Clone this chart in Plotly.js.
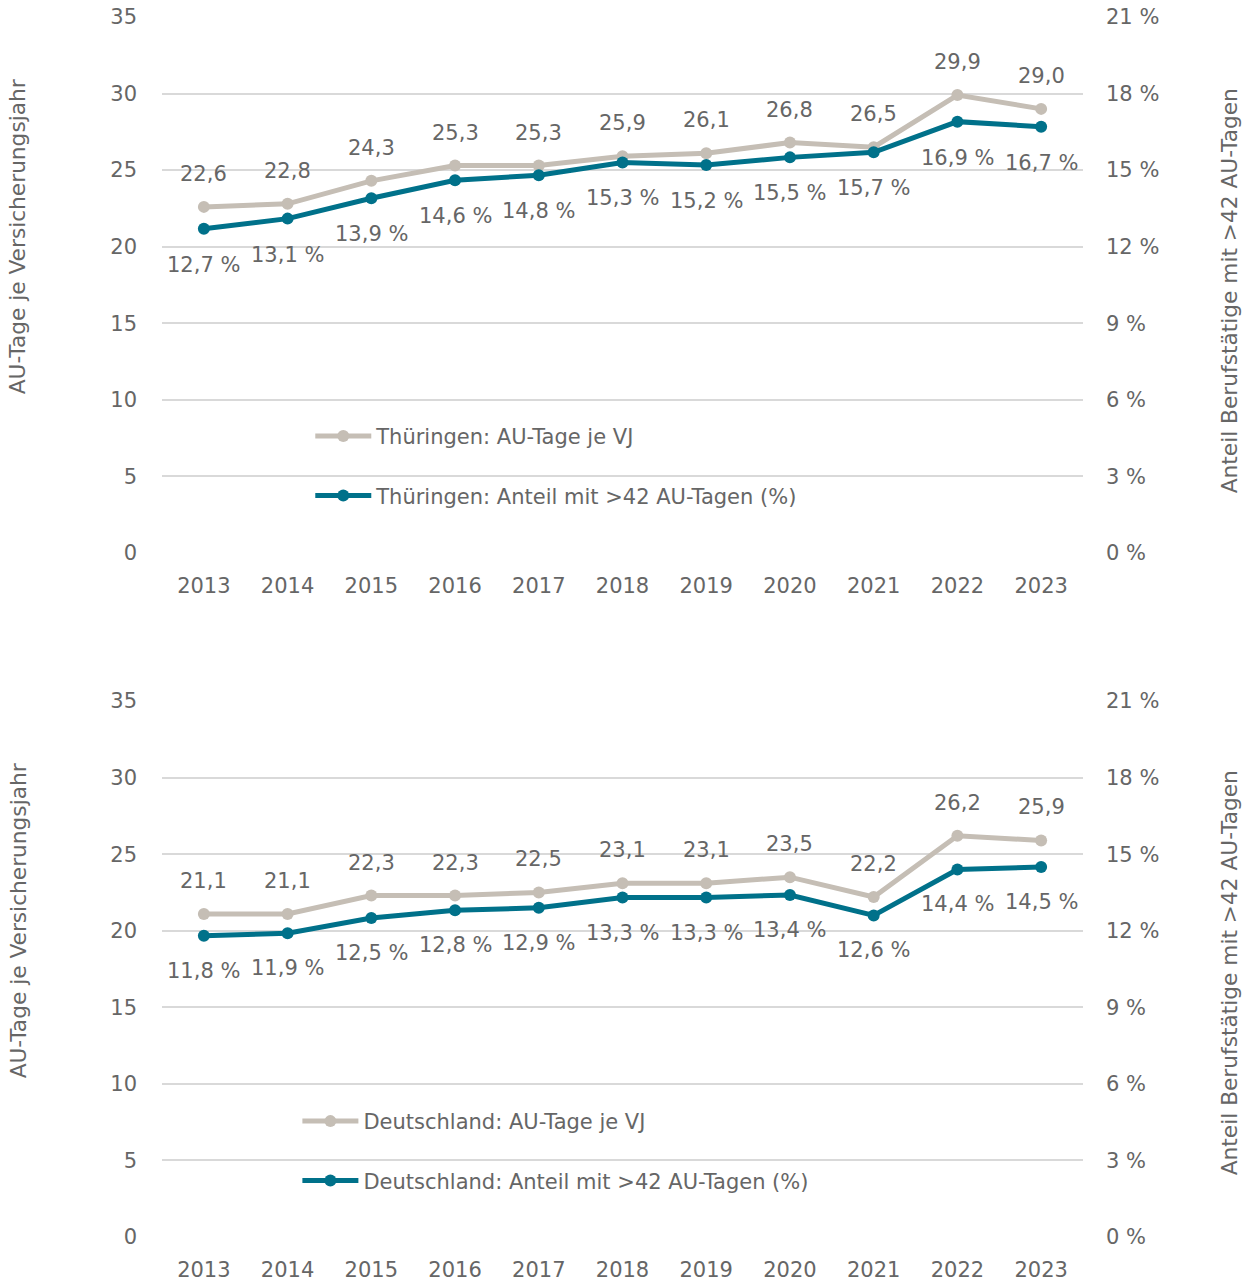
<!DOCTYPE html>
<html>
<head>
<meta charset="utf-8">
<script src="https://cdn.plot.ly/plotly-3.0.1.min.js"></script>
<style>html,body{margin:0;padding:0;background:#fff;}#chart{width:1251px;height:1285px;}</style>
</head>
<body>
<div id="chart"></div>
<script>
const years = ["2013","2014","2015","2016","2017","2018","2019","2020","2021","2022","2023"];
const thDays = [22.6,22.8,24.3,25.3,25.3,25.9,26.1,26.8,26.5,29.9,29.0];
const thPct  = [12.7,13.1,13.9,14.6,14.8,15.3,15.2,15.5,15.7,16.9,16.7];
const deDays = [21.1,21.1,22.3,22.3,22.5,23.1,23.1,23.5,22.2,26.2,25.9];
const dePct  = [11.8,11.9,12.5,12.8,12.9,13.3,13.3,13.4,12.6,14.4,14.5];
const leftTicks = [0,5,10,15,20,25,30,35];
const rightTicks = [0,3,6,9,12,15,18,21];
const rightTickLabels = ["0 %","3 %","6 %","9 %","12 %","15 %","18 %","21 %"];

const GRAY = "#c5beb5", TEAL = "#00718a", TXT = "#666666";
const FONT = "DejaVu Sans";
const FS = 21;
const fmt = v => v.toFixed(1).replace(".", ",");

function line(x, y, name, color, xa, ya, legend, group) {
  return {x, y, name, type: "scatter", mode: "lines+markers", xaxis: xa, yaxis: ya,
    line: {color, width: 5}, marker: {color, size: 12}, legend, legendgroup: group,
    hoverinfo: "skip"};
}

const traces = [
  line(years, thDays, "Thüringen: AU-Tage je VJ", GRAY, "x", "y", "legend", "a"),
  line(years, thPct, "Thüringen: Anteil mit >42 AU-Tagen (%)", TEAL, "x", "y2", "legend", "b"),
  line(years, deDays, "Deutschland: AU-Tage je VJ", GRAY, "x2", "y3", "legend2", "c"),
  line(years, dePct, "Deutschland: Anteil mit >42 AU-Tagen (%)", TEAL, "x2", "y4", "legend2", "d")
];

const annotations = [];
function labels(vals, xa, ya, shift, suffix) {
  vals.forEach((v, i) => annotations.push({x: i, y: v, xref: xa, yref: ya,
    text: fmt(v) + suffix, showarrow: false, yshift: shift,
    xanchor: "center", yanchor: "middle",
    font: {family: FONT, size: FS, color: TXT}}));
}
labels(thDays, "x", "y", 33, "");
labels(thPct, "x", "y2", -36, " %");
labels(deDays, "x2", "y3", 33, "");
labels(dePct, "x2", "y4", -35, " %");

function title(text, x, y) {
  annotations.push({text, x, y, xref: "paper", yref: "paper", showarrow: false, textangle: -90,
    font: {family: FONT, size: 21.7, color: TXT}, xanchor: "center", yanchor: "middle"});
}
title("AU-Tage je Versicherungsjahr", -0.156, 0.8197);
title("Anteil Berufstätige mit >42 AU-Tagen", 1.1585, 0.776);
title("AU-Tage je Versicherungsjahr", -0.156, 0.259);
title("Anteil Berufstätige mit >42 AU-Tagen", 1.1585, 0.217);

const tickFont = {family: FONT, size: FS, color: TXT};
function xax(anchor) {
  return {type: "category", range: [-0.5, 10.5], anchor, showgrid: false, zeroline: false,
    showline: false, ticks: "", tickfont: tickFont, ticklabelstandoff: 18, fixedrange: true};
}
function yl(domain, anchor) {
  return {domain, anchor, range: [0, 35], tickvals: leftTicks, showgrid: true, gridcolor: "#d9d9d9",
    gridwidth: 2, zeroline: false, showline: false, ticks: "", tickfont: tickFont,
    ticklabelstandoff: 24, fixedrange: true};
}
function yr(overlaying, anchor) {
  return {overlaying, anchor, side: "right", range: [0, 21], tickvals: rightTicks,
    ticktext: rightTickLabels, showgrid: false, zeroline: false, showline: false, ticks: "",
    tickfont: tickFont, ticklabelstandoff: 22, fixedrange: true};
}

const legendBase = {orientation: "v", xanchor: "left", yanchor: "top", bgcolor: "rgba(0,0,0,0)",
  font: {family: FONT, size: FS, color: TXT}, traceorder: "grouped", tracegroupgap: 29,
  itemwidth: 56, itemclick: false, itemdoubleclick: false};

const layout = {
  width: 1251, height: 1285,
  margin: {l: 162, r: 168, t: 17, b: 48},
  paper_bgcolor: "#fff", plot_bgcolor: "#fff",
  font: {family: FONT, color: TXT},
  showlegend: true,
  xaxis: xax("y"),
  yaxis: yl([0.5607, 1], "x"),
  yaxis2: yr("y", "x"),
  xaxis2: xax("y3"),
  yaxis3: yl([0, 0.4393], "x2"),
  yaxis4: yr("y3", "x2"),
  legend: Object.assign({}, legendBase, {x: 0.161, y: 0.673}),
  legend2: Object.assign({}, legendBase, {x: 0.147, y: 0.1115}),
  annotations
};

Plotly.newPlot("chart", traces, layout, {displayModeBar: false, staticPlot: true});
</script>
</body>
</html>
